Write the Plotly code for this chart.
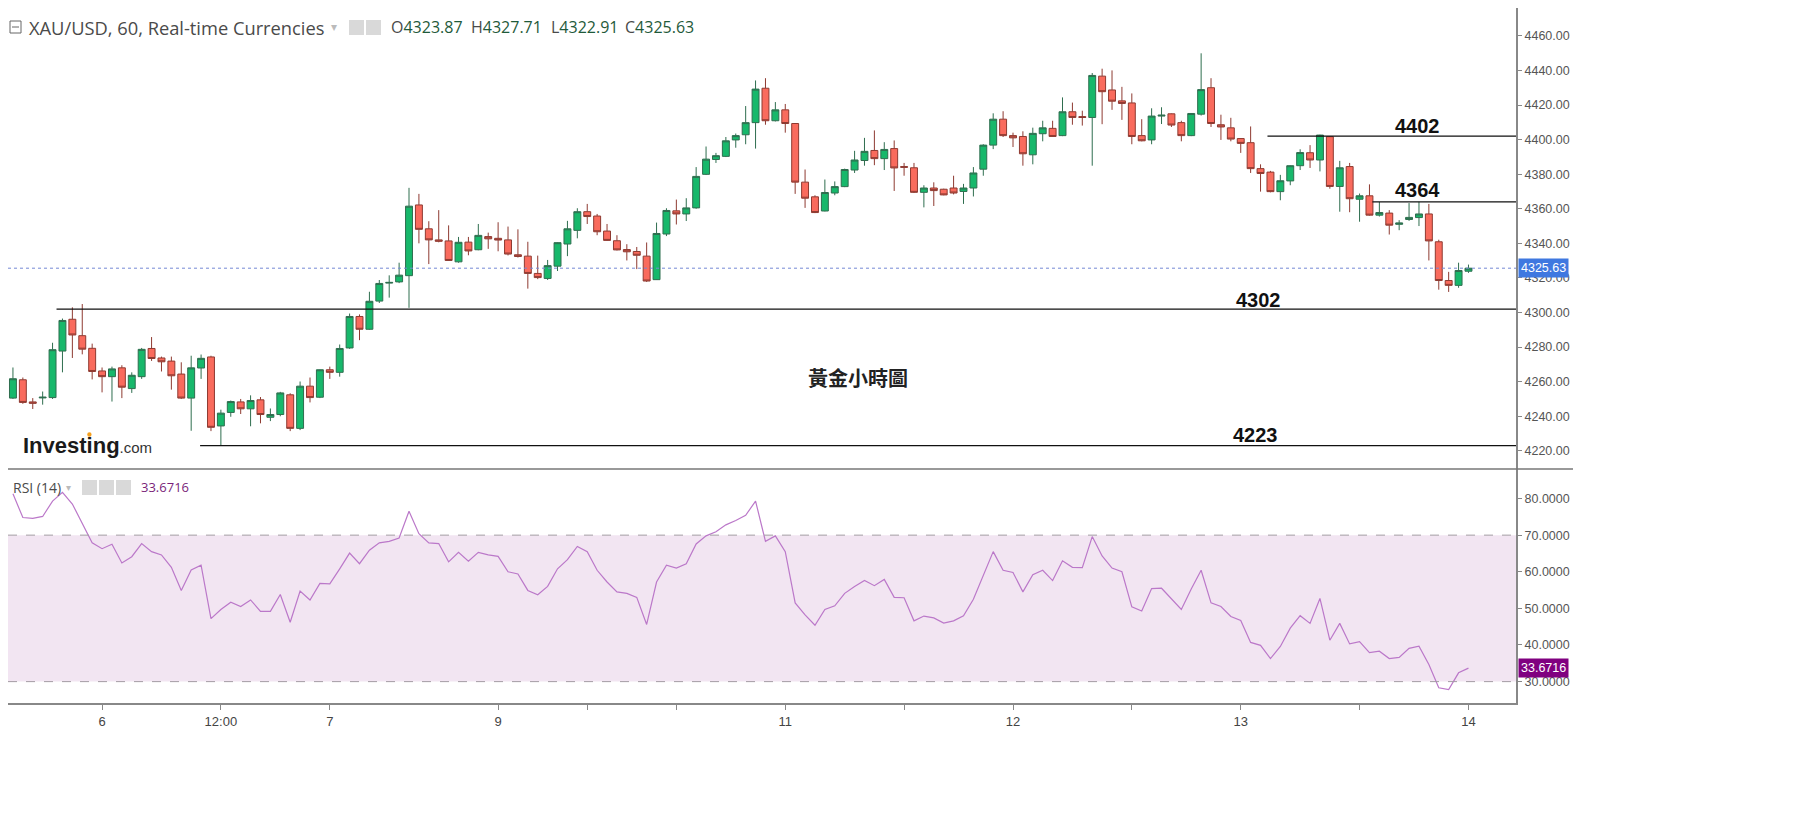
import plotly.graph_objects as go

# hourly XAU/USD candles (index = bar number)
opens = [4250.5, 4261.1, 4248.3, 4250.6, 4250.8, 4277.7, 4296.1, 4286.6, 4279.3, 4266.2,
         4262.9, 4268.0, 4256.0, 4262.9, 4279.2, 4273.7, 4271.9, 4264.4, 4250.5, 4267.9,
         4274.3, 4234.4, 4242.2, 4248.3, 4244.3, 4249.5, 4239.4, 4241.0, 4252.4, 4233.0,
         4257.4, 4251.0, 4266.9, 4265.4, 4279.5, 4297.7, 4290.3, 4306.6, 4317.0, 4317.7,
         4321.3, 4362.2, 4348.4, 4342.0, 4341.4, 4329.3, 4340.7, 4336.3, 4343.9, 4342.9,
         4342.0, 4333.4, 4332.6, 4322.6, 4319.7, 4326.8, 4339.6, 4347.5, 4358.3, 4355.8,
         4347.1, 4341.5, 4336.4, 4335.3, 4332.6, 4319.0, 4345.4, 4358.8, 4357.0, 4360.5,
         4379.9, 4388.5, 4390.3, 4399.8, 4402.8, 4409.8, 4429.7, 4410.9, 4417.2, 4409.3,
         4375.4, 4366.9, 4358.7, 4369.1, 4372.8, 4382.4, 4387.9, 4393.7, 4389.0, 4394.8,
         4384.4, 4383.7, 4369.5, 4372.0, 4371.3, 4372.0, 4370.0, 4372.0, 4382.9, 4396.8,
         4411.8, 4402.3, 4401.8, 4391.2, 4403.4, 4406.5, 4402.3, 4416.1, 4413.3, 4412.8,
         4436.7, 4428.7, 4422.4, 4421.2, 4402.3, 4399.8, 4413.6, 4414.9, 4409.8, 4402.3,
         4414.7, 4430.0, 4408.6, 4406.8, 4400.6, 4398.2, 4383.2, 4381.2, 4369.9, 4376.1,
         4384.9, 4392.4, 4388.2, 4401.7, 4372.9, 4384.4, 4365.5, 4367.5, 4356.3, 4357.5,
         4351.0, 4353.8, 4354.9, 4357.0, 4340.9, 4318.5, 4315.7, 4323.87]
highs = [4268.2, 4262.4, 4250.5, 4254.3, 4282.5, 4296.5, 4303.0, 4304.9, 4282.0, 4268.2,
         4268.7, 4269.5, 4265.4, 4279.5, 4285.8, 4274.5, 4274.5, 4271.2, 4275.0, 4275.7,
         4275.0, 4243.8, 4249.1, 4250.0, 4252.1, 4251.1, 4244.5, 4254.1, 4253.3, 4260.1,
         4262.4, 4267.0, 4268.7, 4281.5, 4299.4, 4298.9, 4312.0, 4318.8, 4321.5, 4328.8,
         4372.1, 4368.6, 4352.8, 4359.2, 4350.4, 4343.7, 4343.7, 4351.2, 4346.2, 4352.2,
         4349.7, 4348.1, 4340.9, 4332.9, 4330.4, 4340.6, 4353.0, 4360.3, 4362.8, 4357.0,
         4351.2, 4344.7, 4339.5, 4337.9, 4340.5, 4352.0, 4360.3, 4365.3, 4366.1, 4384.1,
         4396.0, 4392.3, 4401.5, 4403.5, 4419.4, 4434.2, 4435.5, 4421.7, 4420.6, 4409.5,
         4382.7, 4367.8, 4376.9, 4375.8, 4383.2, 4393.5, 4401.0, 4405.3, 4398.5, 4399.5,
         4386.5, 4386.5, 4373.6, 4375.3, 4371.6, 4379.1, 4374.4, 4384.1, 4397.3, 4415.2,
         4416.4, 4404.0, 4404.8, 4406.9, 4410.9, 4410.9, 4424.4, 4421.4, 4416.7, 4438.5,
         4441.0, 4440.0, 4430.5, 4426.7, 4411.8, 4418.1, 4418.7, 4415.1, 4410.9, 4415.3,
         4449.9, 4435.5, 4414.4, 4412.6, 4400.8, 4407.6, 4385.7, 4381.9, 4379.6, 4385.1,
         4394.4, 4396.8, 4402.8, 4401.9, 4387.7, 4386.5, 4368.8, 4374.1, 4363.9, 4359.2,
         4353.4, 4363.3, 4364.0, 4362.8, 4342.1, 4323.5, 4328.8, 4327.71]
lows = [4250.0, 4247.2, 4244.2, 4246.7, 4250.0, 4265.4, 4273.7, 4275.8, 4261.3, 4253.8,
        4248.5, 4250.5, 4253.5, 4261.6, 4272.0, 4265.9, 4255.4, 4250.0, 4231.6, 4261.6,
        4231.4, 4223.0, 4239.7, 4241.3, 4234.2, 4235.9, 4237.2, 4240.0, 4231.4, 4232.0,
        4248.0, 4250.5, 4261.6, 4262.9, 4279.0, 4284.0, 4290.0, 4305.5, 4308.6, 4317.0,
        4302.7, 4340.0, 4328.0, 4340.6, 4330.0, 4328.8, 4333.1, 4336.0, 4336.8, 4335.4,
        4333.0, 4331.8, 4313.8, 4319.3, 4318.8, 4324.0, 4332.6, 4342.9, 4351.2, 4344.7,
        4341.5, 4335.9, 4330.1, 4325.1, 4317.7, 4318.8, 4344.2, 4350.9, 4352.9, 4360.0,
        4379.5, 4386.5, 4389.9, 4395.3, 4397.3, 4394.8, 4408.6, 4410.5, 4404.0, 4368.6,
        4360.5, 4357.5, 4358.5, 4367.8, 4372.5, 4380.7, 4384.9, 4385.2, 4382.4, 4370.3,
        4379.1, 4369.1, 4360.8, 4361.6, 4367.8, 4368.3, 4362.8, 4367.1, 4379.1, 4394.5,
        4401.5, 4395.7, 4384.9, 4385.7, 4399.0, 4401.5, 4402.0, 4408.6, 4408.1, 4384.9,
        4408.9, 4417.2, 4411.4, 4397.3, 4399.0, 4397.3, 4409.0, 4407.3, 4399.0, 4402.0,
        4413.9, 4407.3, 4399.8, 4399.0, 4392.3, 4380.7, 4369.9, 4369.5, 4364.9, 4373.6,
        4382.4, 4383.6, 4381.6, 4371.6, 4358.3, 4358.0, 4352.5, 4356.0, 4355.5, 4345.1,
        4347.6, 4353.0, 4350.0, 4330.1, 4313.2, 4311.9, 4314.3, 4322.91]
closes = [4261.7, 4248.0, 4247.5, 4251.0, 4278.5, 4295.4, 4287.0, 4278.8, 4265.9, 4262.9,
          4267.4, 4256.8, 4263.7, 4278.7, 4273.4, 4271.5, 4263.4, 4250.5, 4268.0, 4273.5,
          4233.6, 4241.8, 4248.5, 4244.3, 4249.1, 4241.0, 4241.0, 4253.5, 4233.0, 4257.4,
          4250.8, 4266.9, 4265.4, 4279.2, 4297.7, 4290.3, 4306.5, 4316.8, 4317.4, 4321.6,
          4361.5, 4348.1, 4342.0, 4341.2, 4330.1, 4340.6, 4335.6, 4344.6, 4342.6, 4341.9,
          4333.8, 4332.4, 4322.6, 4320.2, 4327.1, 4340.4, 4348.4, 4358.3, 4355.5, 4346.7,
          4341.7, 4336.2, 4335.1, 4333.1, 4318.2, 4345.7, 4359.0, 4357.0, 4360.5, 4378.7,
          4388.7, 4390.7, 4399.3, 4402.3, 4409.8, 4429.2, 4410.9, 4417.2, 4409.3, 4375.4,
          4366.1, 4357.8, 4369.4, 4372.8, 4382.7, 4388.2, 4393.2, 4389.0, 4394.3, 4383.6,
          4384.0, 4369.5, 4372.0, 4370.5, 4368.0, 4369.1, 4372.0, 4380.7, 4396.8, 4411.8,
          4402.3, 4401.0, 4391.8, 4403.6, 4406.8, 4401.8, 4416.1, 4412.8, 4412.8, 4437.1,
          4427.7, 4422.2, 4420.9, 4401.8, 4399.3, 4413.6, 4414.1, 4408.4, 4402.3, 4415.1,
          4428.9, 4409.3, 4407.3, 4400.3, 4397.8, 4383.2, 4380.4, 4369.9, 4376.2, 4384.9,
          4392.5, 4388.2, 4402.6, 4372.9, 4383.7, 4365.8, 4367.5, 4356.3, 4357.8, 4350.5,
          4351.8, 4355.0, 4357.0, 4341.4, 4318.5, 4315.7, 4324.3, 4325.63]

rsi = [81.3, 74.8, 74.6, 75.1, 79.3, 81.7, 78.5, 73.4, 67.9, 66.3,
       67.5, 62.4, 64.1, 67.7, 65.5, 64.6, 61.2, 54.9, 60.5, 61.8,
       47.2, 49.7, 51.7, 50.5, 52.3, 49.2, 49.2, 53.8, 46.2, 54.7,
       52.3, 56.8, 56.7, 60.8, 65.1, 62.2, 65.9, 67.9, 68.3, 69.2,
       76.5, 70.4, 67.9, 67.7, 62.7, 65.3, 62.9, 65.3, 64.6, 64.2,
       60.0, 59.4, 54.9, 53.7, 56.0, 60.8, 63.3, 66.9, 65.5, 60.4,
       57.2, 54.5, 54.1, 53.0, 45.6, 57.2, 61.8, 61.0, 62.2, 67.6,
       69.8, 70.9, 72.8, 74.0, 75.4, 79.3, 68.3, 69.8, 65.5, 51.5,
       48.2, 45.4, 49.7, 50.7, 54.1, 56.0, 57.6, 56.2, 57.9, 53.0,
       52.9, 46.6, 47.9, 47.4, 46.0, 46.6, 48.0, 52.5, 59.2, 65.5,
       60.4, 59.8, 54.5, 59.2, 60.4, 57.6, 63.0, 61.2, 61.1, 69.6,
       64.3, 61.0, 60.0, 50.4, 49.3, 55.4, 55.5, 52.5, 49.7, 55.3,
       60.4, 51.5, 50.5, 47.8, 46.7, 40.7, 39.9, 36.3, 39.6, 44.6,
       48.0, 45.9, 52.7, 41.3, 45.9, 40.3, 40.9, 37.9, 38.3, 36.3,
       36.6, 39.1, 39.7, 34.7, 28.3, 27.8, 32.4, 33.6716]

bars = list(range(len(closes)))

tick_pos = [9, 21, 32, 49, 58, 67, 78, 90, 101, 113, 124, 136, 147]
tick_text = ["6", "12:00", "7", "9", "", "", "11", "", "12", "", "13", "", "14"]

# support / resistance levels: (price, first bar, label bar, label price)
levels = [(4402, 126.7, 141.9, 4408.1),
          (4364, 137.3, 141.9, 4370.6),
          (4302, 4.4, 125.8, 4307.1),
          (4223, 18.9, 125.5, 4229.2)]

last_price = 4325.63
last_rsi = 33.6716

x_range = [-0.5, 151.8]
split = 0.3367
W_PLOT, H_PLOT = 1508, 695


def px(xd):
    return xd / W_PLOT


def py(yd):
    return 1 - yd / H_PLOT


fig = go.Figure()

fig.add_trace(go.Candlestick(
    x=bars, open=opens, high=highs, low=lows, close=closes,
    xaxis='x', yaxis='y', whiskerwidth=0,
    increasing=dict(fillcolor='#17b86b', line=dict(color='#2f6e4f', width=1)),
    decreasing=dict(fillcolor='#f96b5d', line=dict(color='#8e3a31', width=1)),
    hoverinfo='skip'
))

fig.add_trace(go.Scatter(
    x=bars, y=rsi, mode='lines', xaxis='x2', yaxis='y2',
    line=dict(color='#bb78c9', width=1.2), hoverinfo='skip'
))

shapes = []
# RSI band and bounds
shapes.append(dict(type='rect', xref='x2 domain', yref='y2', x0=0, x1=1, y0=30, y1=70,
                   fillcolor='#f2e5f2', line=dict(width=0), layer='below'))
for lv in (30, 70):
    shapes.append(dict(type='line', xref='x2 domain', yref='y2', x0=0, x1=1, y0=lv, y1=lv,
                       line=dict(color='#a39ca3', width=1, dash='dash')))

# level lines
for price, start, _, _ in levels:
    shapes.append(dict(type='line', xref='x', yref='y', x0=start, x1=x_range[1],
                       y0=price, y1=price, line=dict(color='#111111', width=1.2)))

# last price dotted line
shapes.append(dict(type='line', xref='x domain', yref='y', x0=0, x1=1,
                   y0=last_price, y1=last_price,
                   line=dict(color='#7489d6', width=1, dash='dot')))

# pane separator
shapes.append(dict(type='line', xref='paper', yref='paper', x0=0, x1=px(1565),
                   y0=split, y1=split, line=dict(color='#777777', width=1.5)))

# header icons
shapes.append(dict(type='rect', xref='paper', yref='paper', x0=px(2), x1=px(13),
                   y0=py(25), y1=py(13), line=dict(color='#666666', width=1)))
shapes.append(dict(type='line', xref='paper', yref='paper', x0=px(4), x1=px(11),
                   y0=py(19), y1=py(19), line=dict(color='#666666', width=1)))
for x0 in (341, 358):
    shapes.append(dict(type='rect', xref='paper', yref='paper', x0=px(x0), x1=px(x0 + 15),
                       y0=py(27), y1=py(12), fillcolor='#d9d9d9', line=dict(width=0)))
for x0 in (74, 91, 108):
    shapes.append(dict(type='rect', xref='paper', yref='paper', x0=px(x0), x1=px(x0 + 15),
                       y0=py(487), y1=py(472), fillcolor='#d9d9d9', line=dict(width=0)))

# orange dot of the logo
shapes.append(dict(type='circle', xref='paper', yref='paper',
                   x0=px(79.2), x1=px(83.6), y0=py(428.7), y1=py(424.3),
                   fillcolor='#f5a01e', line=dict(width=0)))

annotations = []
for price, _, lx, ly in levels:
    annotations.append(dict(x=lx, y=ly, xref='x', yref='y', text='<b>%d</b>' % price,
                            showarrow=False, font=dict(family='Liberation Sans', size=20, color='#111111')))

annotations.append(dict(x=85.3, y=4262.7, xref='x', yref='y', text='<b>黃金小時圖</b>',
                        showarrow=False,
                        font=dict(family='Noto Sans CJK TC', size=20, color='#222222')))


def note(xd, yd, text, size, color, family='Open Sans'):
    annotations.append(dict(x=px(xd), y=py(yd), xref='paper', yref='paper',
                            xanchor='left', yanchor='middle', text=text, showarrow=False,
                            font=dict(family=family, size=size, color=color)))


note(13, 437, "<b>Investing</b><span style='font-size:15px;color:#333'>.com</span>",
     22, '#1a1a1a', 'Liberation Sans')

grey = '#4a4a4a'
green = '#1f5a3a'
note(19, 19, 'XAU/USD, 60, Real-time Currencies', 18.3, grey)
note(321, 19, '▾', 12, '#bbbbbb', 'DejaVu Sans')
for xd, letter, val in [(381, 'O', '4323.87'), (461, 'H', '4327.71'),
                        (541, 'L', '4322.91'), (615, 'C', '4325.63')]:
    note(xd, 19, "%s<span style='color:%s'>%s</span>" % (letter, green, val), 16, grey)

note(3, 479, 'RSI (14)', 14, grey)
note(56, 479, '▾', 10, '#bbbbbb', 'DejaVu Sans')
note(131, 479, '%.4f' % last_rsi, 13, '#7a1f7a')

# price tags on the axis
annotations.append(dict(x=1, y=last_price, xref='paper', yref='y', xanchor='left',
                        yanchor='middle', text='%.2f' % last_price, showarrow=False,
                        bgcolor='#3f78e0', borderpad=2, xshift=2,
                        font=dict(family='Liberation Sans', size=12.5, color='white')))
annotations.append(dict(x=1, y=last_rsi, xref='paper', yref='y2', xanchor='left',
                        yanchor='middle', text='%.4f' % last_rsi, showarrow=False,
                        bgcolor='#800080', borderpad=2, xshift=2,
                        font=dict(family='Liberation Sans', size=12.5, color='white')))

axis_font = dict(family='Liberation Sans', size=12.5, color='#555555')

fig.update_layout(
    width=1813, height=828,
    margin=dict(l=0, r=1813 - W_PLOT, t=0, b=828 - H_PLOT),
    paper_bgcolor='white', plot_bgcolor='white',
    showlegend=False, boxgap=0.3, boxgroupgap=0,
    shapes=shapes, annotations=annotations,
    xaxis=dict(domain=[0, 1], anchor='y', range=x_range, showticklabels=False,
               showgrid=False, zeroline=False, ticks='', rangeslider=dict(visible=False)),
    xaxis2=dict(domain=[0, 1], anchor='y2', matches='x', range=x_range,
                tickvals=tick_pos, ticktext=tick_text, ticks='outside', ticklen=5,
                tickcolor='#888888', showline=True, linecolor='#888888', linewidth=2,
                showgrid=False, zeroline=False,
                tickfont=dict(family='Liberation Sans', size=13, color='#444444')),
    yaxis=dict(domain=[split, 1], anchor='x', side='right', range=[4209.5, 4476.1],
               tickvals=list(range(4220, 4461, 20)), tickformat='.2f',
               ticks='outside', ticklen=4, tickcolor='#888888',
               showline=True, linecolor='#888888', linewidth=2,
               showgrid=False, zeroline=False, tickfont=axis_font),
    yaxis2=dict(domain=[0, split], anchor='x2', side='right', range=[24.16, 88.06],
                tickvals=[30, 40, 50, 60, 70, 80], tickformat='.4f',
                ticks='outside', ticklen=4, tickcolor='#888888',
                showline=True, linecolor='#888888', linewidth=2,
                showgrid=False, zeroline=False, tickfont=axis_font),
)

fig.write_html("out.html")
